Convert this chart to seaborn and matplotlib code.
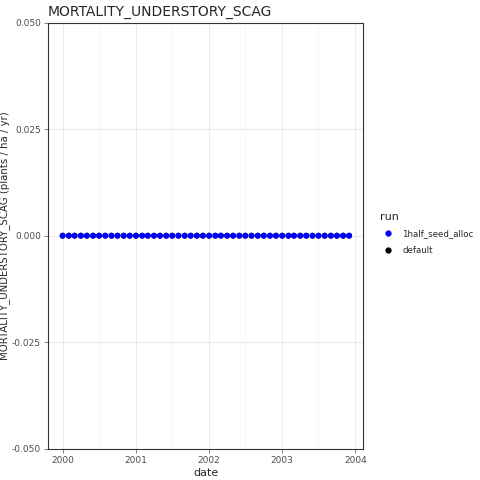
import matplotlib
matplotlib.use("Agg")
import matplotlib.pyplot as plt
import matplotlib.dates as mdates
import seaborn as sns
import pandas as pd
import numpy as np

dates = pd.date_range("2000-01-01", periods=48, freq="MS")
runs = ["1half_seed_alloc", "default"]
values_half = [0.0] * 48
values_default = [0.0] * 48

df = pd.concat([
    pd.DataFrame({"date": dates, "value": values_default, "run": "default"}),
    pd.DataFrame({"date": dates, "value": values_half, "run": "1half_seed_alloc"}),
])

sns.set_theme(style="whitegrid")
plt.rcParams['font.family'] = ['DejaVu Sans']
fig = plt.figure(figsize=(4.8, 4.8), dpi=100)
ax = fig.add_axes([0.10, 0.065, 0.657, 0.888])
sns.scatterplot(data=df, x="date", y="value", hue="run", hue_order=runs,
                palette={"1half_seed_alloc": "blue", "default": "black"},
                s=18, linewidth=0, ax=ax, legend=False)
ax.set_ylim(-0.05, 0.05)
ax.set_yticks([-0.05, -0.025, 0, 0.025, 0.05])
ax.set_yticklabels(["-0.050", "-0.025", "0.000", "0.025", "0.050"])
ax.set_xlim(pd.Timestamp("1999-10-20"), pd.Timestamp("2004-02-10"))
ax.xaxis.set_major_locator(mdates.YearLocator())
ax.xaxis.set_major_formatter(mdates.DateFormatter("%Y"))
ax.xaxis.set_minor_locator(mdates.MonthLocator(bymonth=7))
ax.grid(True, which="major", color="#ebebeb", linewidth=0.8)
ax.grid(True, which="minor", color="#f4f4f4", linewidth=0.5)
for s in ax.spines.values():
    s.set_color("#333333"); s.set_linewidth(0.8)
ax.tick_params(axis="both", labelsize=6.5, colors="#4d4d4d", length=3, width=0.5, pad=2, left=True, bottom=True)
ax.set_xlabel("date", fontsize=8, labelpad=2)
ax.set_ylabel("MORTALITY_UNDERSTORY_SCAG (plants / ha / yr)", fontsize=7.3)
ax.yaxis.set_label_coords(-0.12, 0.5)
ax.set_title("MORTALITY_UNDERSTORY_SCAG", fontsize=10, loc="left", pad=5)

from matplotlib.lines import Line2D
handles = [Line2D([], [], marker="o", ls="", color=c, markersize=3.5) for c in ["blue", "black"]]
leg = fig.legend(handles, runs, title="run", loc="upper left", bbox_to_anchor=(0.775, 0.575),
                 frameon=False, fontsize=6.2, title_fontsize=8, handletextpad=0.6, labelspacing=0.9)
leg._legend_box.align = "left"
fig.savefig("out.png", dpi=100)
